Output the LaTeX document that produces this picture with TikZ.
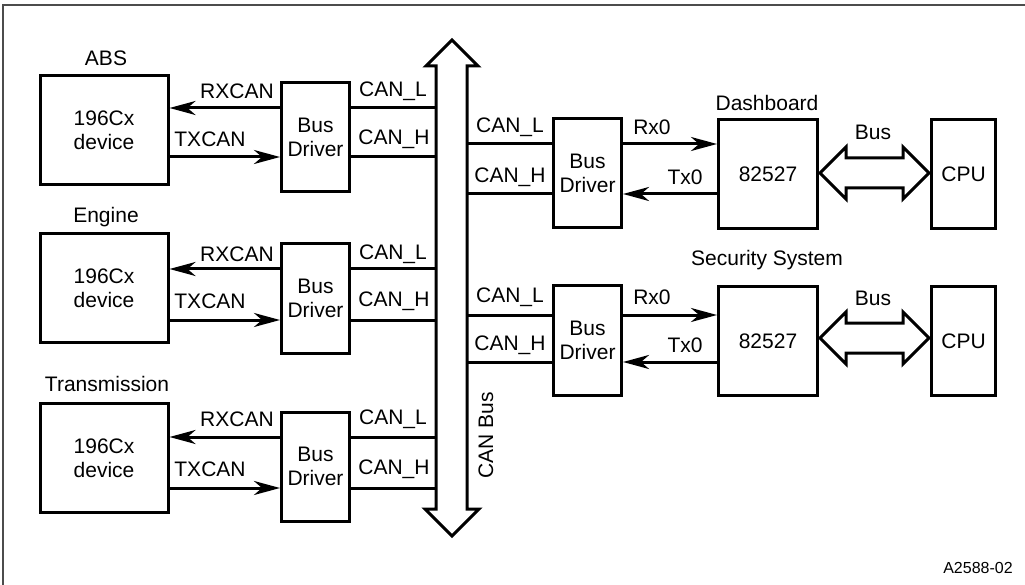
\documentclass[tikz,border=0pt]{standalone}
\usepackage{fontspec}
\setmainfont{Liberation Sans}
\usetikzlibrary{arrows.meta}
\begin{document}
\begin{tikzpicture}[x=1pt,y=-1pt,
  every node/.style={font=\fontsize{21}{24}\selectfont, inner sep=0pt},
  blk/.style={draw, line width=3pt, align=center},
  dev/.style={blk, minimum width=128pt, minimum height=109pt},
  drv/.style={blk, minimum width=68pt, minimum height=109pt},
  chip/.style={blk, minimum width=99pt, minimum height=109pt},
  cpu/.style={blk, minimum width=64pt, minimum height=109pt},
  wire/.style={line width=3pt},
  arr/.style={wire, -{Stealth[length=26pt,width=14pt,inset=8pt]}},
  fat/.style={line width=3pt, line join=miter}]
\useasboundingbox (0,0) rectangle (1025,585);
\draw[black!70, line width=2pt] (3,585) -- (3,5.5) -- (1025,5.5);

% CAN bus
\coordinate (busL) at (436,0);
\coordinate (busR) at (467,0);
\draw[fat] (436,509) -- (436,66) -- (426,66) -- (452,40) -- (478,66) -- (467,66)
  -- (467,509) -- (479,509) -- (452,536) -- (425,509) -- cycle;
\node[rotate=90] (canbus) at (486,435) {CAN Bus};

% left group: ABS
\node (lblabs) at (106,58) {ABS};
\node[dev] (abs) at (104,130.5) {196Cx\\device};
\node[drv] (drv1) at (315.5,137.5) {Bus\\Driver};
\coordinate (r1) at (0,108); \coordinate (t1) at (0,157);
\draw[arr] (drv1.west |- r1) -- (abs.east |- r1);
\draw[arr] (abs.east |- t1) -- (drv1.west |- t1);
\draw[wire] (drv1.east |- r1) -- (busL |- r1);
\draw[wire] (drv1.east |- t1) -- (busL |- t1);
\node (rx1) at (237,91) {RXCAN};
\node (tx1) at (210,139) {TXCAN};
\node (cl1) at (393,91) {CAN\_L};
\node (ch1) at (394,139) {CAN\_H};

% Engine
\node (lbleng) at (106,217) {Engine};
\node[dev] (eng) at (104,288) {196Cx\\device};
\node[drv] (drv2) at (315.5,298.5) {Bus\\Driver};
\coordinate (r2) at (0,269); \coordinate (t2) at (0,320);
\draw[arr] (drv2.west |- r2) -- (eng.east |- r2);
\draw[arr] (eng.east |- t2) -- (drv2.west |- t2);
\draw[wire] (drv2.east |- r2) -- (busL |- r2);
\draw[wire] (drv2.east |- t2) -- (busL |- t2);
\node (rx2) at (237,254) {RXCAN};
\node (tx2) at (210,301) {TXCAN};
\node (cl2) at (393,254) {CAN\_L};
\node (ch2) at (394,301) {CAN\_H};

% Transmission
\node (lbltrn) at (107,384) {Transmission};
\node[dev] (trn) at (104,458) {196Cx\\device};
\node[drv] (drv3) at (315.5,466.5) {Bus\\Driver};
\coordinate (r3) at (0,437); \coordinate (t3) at (0,488);
\draw[arr] (drv3.west |- r3) -- (trn.east |- r3);
\draw[arr] (trn.east |- t3) -- (drv3.west |- t3);
\draw[wire] (drv3.east |- r3) -- (busL |- r3);
\draw[wire] (drv3.east |- t3) -- (busL |- t3);
\node (rx3) at (237,419) {RXCAN};
\node (tx3) at (210,469) {TXCAN};
\node (cl3) at (393,419) {CAN\_L};
\node (ch3) at (394,469) {CAN\_H};

% Dashboard
\node (lbldash) at (767,103) {Dashboard};
\node[drv] (drvD) at (587.5,173.5) {Bus\\Driver};
\node[chip] (chipD) at (768,174) {82527};
\node[cpu] (cpuD) at (963.5,174) {CPU};
\coordinate (rD) at (0,144); \coordinate (tD) at (0,194);
\draw[wire] (busR |- rD) -- (drvD.west |- rD);
\draw[wire] (busR |- tD) -- (drvD.west |- tD);
\draw[arr] (drvD.east |- rD) -- (chipD.west |- rD);
\draw[arr] (chipD.west |- tD) -- (drvD.east |- tD);
\node (clD) at (510,127) {CAN\_L};
\node (chD) at (510,177) {CAN\_H};
\node (rxD) at (652,127) {Rx0};
\node (txD) at (685,177) {Tx0};
\draw[fat] (820,173) -- (846,147) -- (846,158) -- (903,158) -- (903,147) -- (929,173)
  -- (903,199) -- (903,188) -- (846,188) -- (846,199) -- cycle;
\node (busD) at (873,132) {Bus};

% Security System
\node (lblsec) at (767,260) {Security System};
\node[drv] (drvS) at (587.5,340.5) {Bus\\Driver};
\node[chip] (chipS) at (768,341) {82527};
\node[cpu] (cpuS) at (963.5,341) {CPU};
\coordinate (rS) at (0,315); \coordinate (tS) at (0,362);
\draw[wire] (busR |- rS) -- (drvS.west |- rS);
\draw[wire] (busR |- tS) -- (drvS.west |- tS);
\draw[arr] (drvS.east |- rS) -- (chipS.west |- rS);
\draw[arr] (chipS.west |- tS) -- (drvS.east |- tS);
\node (clS) at (510,297) {CAN\_L};
\node (chS) at (510,345) {CAN\_H};
\node (rxS) at (652,297) {Rx0};
\node (txS) at (685,345) {Tx0};
\draw[fat] (820,338) -- (846,312) -- (846,323) -- (903,323) -- (903,312) -- (929,338)
  -- (903,364) -- (903,353) -- (846,353) -- (846,364) -- cycle;
\node (busS) at (873,298) {Bus};

\node[font=\fontsize{16}{19}\selectfont] (fig) at (978,568) {A2588-02};
\end{tikzpicture}
\end{document}
